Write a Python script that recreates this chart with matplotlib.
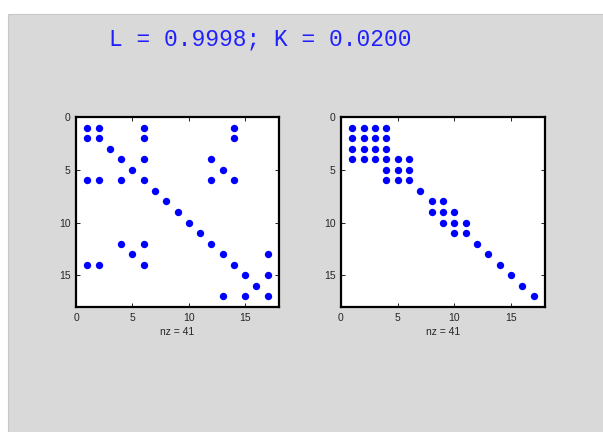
import numpy as np
import matplotlib
matplotlib.use("Agg")
import matplotlib.pyplot as plt
from matplotlib.patches import Rectangle

# Valores do titulo
L_value = 0.9998
K_value = 0.0200

# Padroes de esparsidade (colunas nao nulas de cada linha, linhas 1..17)
left_pattern = [[1, 2, 6, 14], [1, 2, 6, 14], [3], [4, 6, 12], [5, 13],
                [1, 2, 4, 6, 12, 14], [7], [8], [9], [10], [11], [4, 6, 12],
                [5, 13, 17], [1, 2, 6, 14], [15, 17], [16], [13, 15, 17]]
right_pattern = [[1, 2, 3, 4], [1, 2, 3, 4], [1, 2, 3, 4], [1, 2, 3, 4, 5, 6],
                 [4, 5, 6], [4, 5, 6], [7], [8, 9], [8, 9, 10], [9, 10, 11],
                 [10, 11], [12], [13], [14], [15], [16], [17]]
ticks = [0, 5, 10, 15]


def to_matrix(pattern):
    n = len(pattern)
    m = np.zeros((n + 1, n + 1))
    for i, cols in enumerate(pattern, start=1):
        for j in cols:
            m[i, j] = 1
    return m


plt.rcParams['font.family'] = ['Liberation Sans', 'DejaVu Sans']
fig = plt.figure(figsize=(6.03, 4.32), dpi=100, facecolor='white')

# fundo cinza da janela
fig.patches.append(Rectangle((8 / 603, 0), 1, (432 - 14) / 432, transform=fig.transFigure,
                             facecolor='#d9d9d9', edgecolor='#c8c8c8', lw=0.8, zorder=-5))

fig.text(260 / 603, 1 - 39 / 432, f'L = {L_value:.4f}; K = {K_value:.4f}',
         ha='center', va='center', color='#2020ff', fontsize=16.5,
         family=['Liberation Mono', 'DejaVu Sans Mono'])

positions = [[76 / 603, 125 / 432, 203 / 603, 190 / 432],
             [341 / 603, 125 / 432, 204 / 603, 190 / 432]]

for pos, pattern in zip(positions, [left_pattern, right_pattern]):
    ax = fig.add_axes(pos)
    mat = to_matrix(pattern)
    rows, cols = np.nonzero(mat)
    ax.plot(cols, rows, 'o', color='#0000ff', markersize=5.3, markeredgewidth=0, linestyle='none')
    ax.set_xlim(0, 18)
    ax.set_ylim(18, 0)
    ax.set_xticks(ticks)
    ax.set_yticks(ticks)
    ax.tick_params(direction='in', length=3, width=0.6, top=True, right=True,
                   labelsize=7.5, labelcolor='#262626', pad=4)
    for s in ax.spines.values():
        s.set_linewidth(1.6)
    ax.set_xlabel(f'nz = {int(mat.sum())}', fontsize=7.5, color='#262626', labelpad=3)

fig.savefig('out.png', dpi=100)
